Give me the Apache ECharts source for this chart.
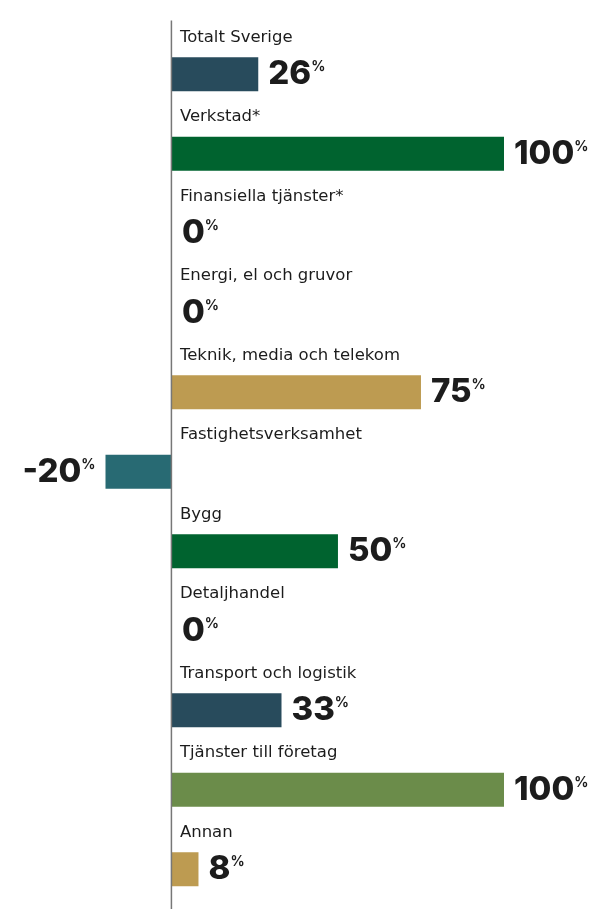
<!DOCTYPE html>
<html>
<head>
<meta charset="utf-8">
<script src="https://cdn.jsdelivr.net/npm/echarts@6/dist/echarts.min.js"></script>
<style>
  html, body { margin: 0; padding: 0; background: #fff; }
  #chart { width: 594px; height: 909px; }
</style>
</head>
<body>
<div id="chart"></div>
<script>
// branscher och andel (%)
const categories = [
  'Totalt Sverige',
  'Verkstad*',
  'Finansiella tjänster*',
  'Energi, el och gruvor',
  'Teknik, media och telekom',
  'Fastighetsverksamhet',
  'Bygg',
  'Detaljhandel',
  'Transport och logistik',
  'Tjänster till företag',
  'Annan'
];
const values = [26, 100, 0, 0, 75, -20, 50, 0, 33, 100, 8];
const barColors = [
  '#284b5c', '#00632f', '#00632f', '#00632f', '#bd9b51', '#286a73',
  '#00632f', '#284b5c', '#284b5c', '#6b8c4a', '#bd9b51'
];

const gridLeft = 105.5;

const chart = echarts.init(document.getElementById('chart'));

const seriesData = values.map(function (v, i) {
  const item = { value: v, itemStyle: { color: barColors[i] } };
  if (v < 0) {
    item.label = { position: 'left' };
  }
  return item;
});

const options = {
  animation: false,
  grid: {
    left: gridLeft,
    width: 398.5,
    top: 34.5,
    height: 885.5
  },
  xAxis: {
    type: 'value',
    min: -20,
    max: 100,
    show: false
  },
  yAxis: {
    type: 'category',
    inverse: true,
    data: categories,
    axisLine: { show: false, onZero: false },
    axisTick: { show: false },
    axisLabel: {
      inside: true,
      margin: 8,
      align: 'left',
      verticalAlign: 'bottom',
      padding: [0, 0, 28, 0],
      fontFamily: 'DejaVu Sans',
      fontSize: 16.5,
      color: '#1c1c1c',
      lineHeight: 18
    }
  },
  series: [
    {
      type: 'bar',
      barWidth: 34,
      data: seriesData,
      clip: false,
      label: {
        show: true,
        position: 'right',
        distance: 10,
        formatter: function (p) {
          return '{v|' + p.value + '}{p|%}';
        },
        rich: {
          v: {
            fontFamily: 'Inter',
            fontSize: 33,
            fontWeight: 800,
            color: '#1c1c1c',
            lineHeight: 34,
            verticalAlign: 'middle'
          },
          p: {
            fontFamily: 'Inter',
            fontSize: 14,
            fontWeight: 700,
            color: '#1c1c1c',
            lineHeight: 14,
            verticalAlign: 'top',
            padding: [3, 0, 0, 0]
          }
        }
      }
    }
  ]
};

chart.setOption(options);

// nolllinjen, från toppen till botten av bilden; etiketterna flyttas till nollan
const zeroX = chart.convertToPixel({ gridIndex: 0 }, [0, 0])[0];
chart.setOption({
  yAxis: { offset: -(zeroX - gridLeft) },
  graphic: [{
    type: 'line',
    z: 10,
    shape: { x1: zeroX - 0.5, y1: 20.5, x2: zeroX - 0.5, y2: 909 },
    style: { stroke: '#777', lineWidth: 1.5 }
  }]
});
</script>
</body>
</html>
